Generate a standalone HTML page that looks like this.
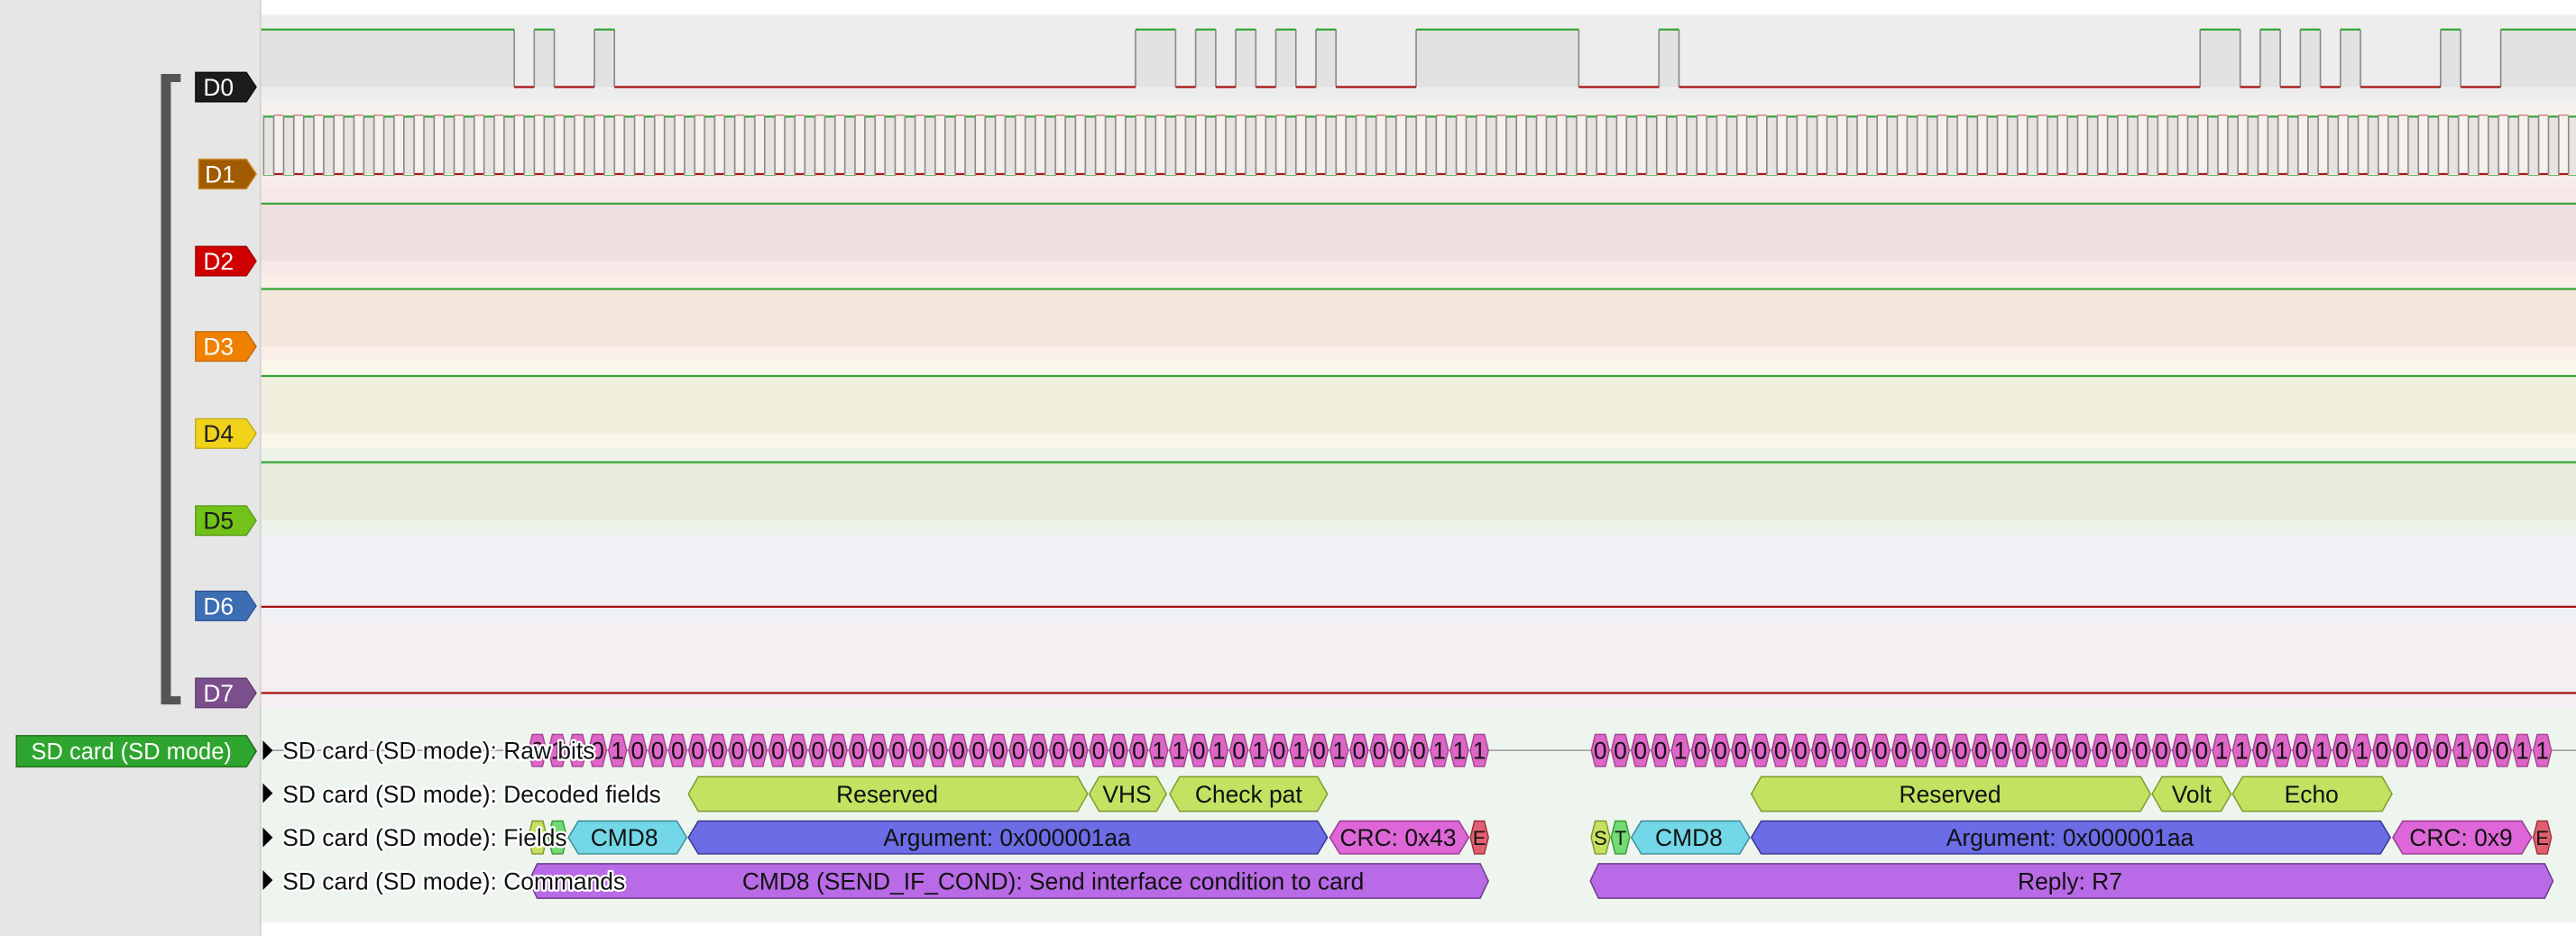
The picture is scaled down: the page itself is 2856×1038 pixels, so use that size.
<!DOCTYPE html>
<html><head><meta charset="utf-8"><style>
html,body{margin:0;padding:0;background:#fff;}
svg{display:block;}
text{font-family:"Liberation Sans",sans-serif;}
</style></head><body>
<svg width="2856" height="1038" viewBox="0 0 1568 570" preserveAspectRatio="none" xmlns="http://www.w3.org/2000/svg">
<defs>
<pattern id="clk" x="160" y="70.4" width="12.2" height="36.2" patternUnits="userSpaceOnUse">
<rect x="0" y="0.6" width="6.6" height="35" fill="#e6e3e0"/>
<rect x="0" y="0" width="7" height="1.2" fill="#35a535"/>
<rect x="6.6" y="35" width="5.8" height="1.2" fill="#a81010"/>
<rect x="0" y="0" width="0.9" height="36" fill="#8a8a8a"/>
<rect x="6.2" y="0" width="0.9" height="36" fill="#8a8a8a"/>
</pattern>
<pattern id="hexa" x="321" y="446" width="12.2" height="22" patternUnits="userSpaceOnUse">
<polygon points="0.6,11 3,1.2 9.2,1.2 11.6,11 9.2,20.8 3,20.8" fill="#de66c8" stroke="#9c3a88" stroke-width="0.7"/>
</pattern>
<pattern id="hexb" x="968" y="446" width="12.2" height="22" patternUnits="userSpaceOnUse">
<polygon points="0.6,11 3,1.2 9.2,1.2 11.6,11 9.2,20.8 3,20.8" fill="#de66c8" stroke="#9c3a88" stroke-width="0.7"/>
</pattern>
</defs>

<rect x="0" y="0" width="1568" height="570" fill="#fff"/>
<rect x="0" y="0" width="158" height="570" fill="#e6e6e6"/>
<rect x="158" y="0" width="1" height="570" fill="#cfcfcf"/>
<rect x="159" y="9" width="1409" height="53" fill="#ededed"/>
<rect x="159" y="62" width="1409" height="53" fill="#f5f1ed"/>
<rect x="159" y="106" width="1409" height="9" fill="#f7ecea"/>
<rect x="159" y="115" width="1409" height="53" fill="#f6e9e8"/>
<rect x="159" y="124" width="1409" height="35" fill="#efdfdf"/>
<rect x="159" y="168" width="1409" height="52" fill="#f9efe8"/>
<rect x="159" y="176" width="1409" height="35" fill="#f3e7dd"/>
<rect x="159" y="220" width="1409" height="53" fill="#f8f7e9"/>
<rect x="159" y="229" width="1409" height="35" fill="#f1f0de"/>
<rect x="159" y="273" width="1409" height="53" fill="#eef3e9"/>
<rect x="159" y="281" width="1409" height="36" fill="#e7ecdd"/>
<rect x="159" y="326" width="1409" height="52" fill="#eff1f5"/>
<rect x="159" y="378" width="1409" height="53" fill="#f3eff3"/>
<rect x="159" y="431" width="1409" height="131" fill="#eef5ee"/>

<g fill="#e2e2e2">
<rect x="159" y="18" width="154" height="35"/>
<rect x="325.2" y="18" width="12.2" height="35"/>
<rect x="361.8" y="18" width="12.2" height="35"/>
<rect x="691.2" y="18" width="24.4" height="35"/>
<rect x="727.8" y="18" width="12.2" height="35"/>
<rect x="752.2" y="18" width="12.2" height="35"/>
<rect x="776.6" y="18" width="12.2" height="35"/>
<rect x="801" y="18" width="12.2" height="35"/>
<rect x="862" y="18" width="99" height="35"/>
<rect x="1009.8" y="18" width="12.2" height="35"/>
<rect x="1339.2" y="18" width="24.4" height="35"/>
<rect x="1375.8" y="18" width="12.2" height="35"/>
<rect x="1400.2" y="18" width="12.2" height="35"/>
<rect x="1424.6" y="18" width="12.2" height="35"/>
<rect x="1485.6" y="18" width="12.2" height="35"/>
<rect x="1522.2" y="18" width="45.8" height="35"/>
</g>
<path fill="none" stroke="#8a8a8a" stroke-width="0.9" d="M313,18V53 M325.2,18V53 M337.4,18V53 M361.8,18V53 M374,18V53 M691.2,18V53 M715.6,18V53 M727.8,18V53 M740,18V53 M752.2,18V53 M764.4,18V53 M776.6,18V53 M788.8,18V53 M801,18V53 M813.2,18V53 M862,18V53 M961,18V53 M1009.8,18V53 M1022,18V53 M1339.2,18V53 M1363.6,18V53 M1375.8,18V53 M1388,18V53 M1400.2,18V53 M1412.4,18V53 M1424.6,18V53 M1436.8,18V53 M1485.6,18V53 M1497.8,18V53 M1522.2,18V53"/>
<path fill="none" stroke="#35a535" stroke-width="1.2" d="M159,18H313 M325.2,18H337.4 M361.8,18H374 M691.2,18H715.6 M727.8,18H740 M752.2,18H764.4 M776.6,18H788.8 M801,18H813.2 M862,18H961 M1009.8,18H1022 M1339.2,18H1363.6 M1375.8,18H1388 M1400.2,18H1412.4 M1424.6,18H1436.8 M1485.6,18H1497.8 M1522.2,18H1568"/>
<path fill="none" stroke="#a81010" stroke-width="1.2" d="M313,53H325.2 M337.4,53H361.8 M374,53H691.2 M715.6,53H727.8 M740,53H752.2 M764.4,53H776.6 M788.8,53H801 M813.2,53H862 M961,53H1009.8 M1022,53H1339.2 M1363.6,53H1375.8 M1388,53H1400.2 M1412.4,53H1424.6 M1436.8,53H1485.6 M1497.8,53H1522.2"/>

<rect x="160" y="70" width="1408" height="37" fill="url(#clk)"/>

<g stroke="#35a535" stroke-width="1.2">
<line x1="159" y1="124" x2="1568" y2="124"/>
<line x1="159" y1="176" x2="1568" y2="176"/>
<line x1="159" y1="229" x2="1568" y2="229"/>
<line x1="159" y1="281.5" x2="1568" y2="281.5"/>
</g>
<g stroke="#a81010" stroke-width="1.2">
<line x1="159" y1="369.5" x2="1568" y2="369.5"/>
<line x1="159" y1="422" x2="1568" y2="422"/>
</g>

<path d="M110,45 H98 V429 H110 V424 H104 V50 H110 Z" fill="#555"/>

<g font-size="14.5" text-anchor="middle">
<polygon points="119,44 150,44 156,53 150,62 119,62" fill="#1c1c1c" stroke="#000" stroke-width="0.6"/>
<text x="133" y="58.2" fill="#fff">D0</text>
<polygon points="121,97 150,97 156,106 150,115 121,115" fill="#a05a00" stroke="#c98a2a" stroke-width="0.8"/>
<text x="134" y="111.2" fill="#fff">D1</text>
<polygon points="119,150 150,150 156,159 150,168 119,168" fill="#d00000" stroke="#900" stroke-width="0.6"/>
<text x="133" y="164.2" fill="#fff">D2</text>
<polygon points="119,202 150,202 156,211 150,220 119,220" fill="#f08000" stroke="#b35f00" stroke-width="0.6"/>
<text x="133" y="216.2" fill="#fff">D3</text>
<polygon points="119,255 150,255 156,264 150,273 119,273" fill="#f0d21a" stroke="#b59d00" stroke-width="0.6"/>
<text x="133" y="269.2" fill="#222">D4</text>
<polygon points="119,308 150,308 156,317 150,326 119,326" fill="#72c21a" stroke="#4e8c0a" stroke-width="0.6"/>
<text x="133" y="322.2" fill="#1a1a1a">D5</text>
<polygon points="119,360 150,360 156,369 150,378 119,378" fill="#3d6db3" stroke="#27508a" stroke-width="0.6"/>
<text x="133" y="374.2" fill="#fff">D6</text>
<polygon points="119,413 150,413 156,422 150,431 119,431" fill="#7b4f8b" stroke="#583566" stroke-width="0.6"/>
<text x="133" y="427.2" fill="#fff">D7</text>
</g>
<polygon points="10,448 150,448 156,457.5 150,467 10,467" fill="#2ea52e" stroke="#1d6e1d" stroke-width="0.8"/>
<text x="80" y="462.5" font-size="14" fill="#fff" text-anchor="middle">SD card (SD mode)</text>

<line x1="160" y1="457" x2="1568" y2="457" stroke="#a0a0a0" stroke-width="0.9"/>

<rect x="321" y="446" width="585.6" height="22" fill="url(#hexa)"/>
<rect x="968" y="446" width="585.6" height="22" fill="url(#hexb)"/>
<g font-size="14.5" fill="#111" text-anchor="middle">
<text y="462.2" x="327.1 339.3 351.5 363.7 375.9 388.1 400.3 412.5 424.7 436.9 449.1 461.3 473.5 485.7 497.9 510.1 522.3 534.5 546.7 558.9 571.1 583.3 595.5 607.7 619.9 632.1 644.3 656.5 668.7 680.9 693.1 705.3 717.5 729.7 741.9 754.1 766.3 778.5 790.7 802.9 815.1 827.3 839.5 851.7 863.9 876.1 888.3 900.5">010010000000000000000000000000011010101010000111</text>
<text y="462.2" x="974.1 986.3 998.5 1010.7 1022.9 1035.1 1047.3 1059.5 1071.7 1083.9 1096.1 1108.3 1120.5 1132.7 1144.9 1157.1 1169.3 1181.5 1193.7 1205.9 1218.1 1230.3 1242.5 1254.7 1266.9 1279.1 1291.3 1303.5 1315.7 1327.9 1340.1 1352.3 1364.5 1376.7 1388.9 1401.1 1413.3 1425.5 1437.7 1449.9 1462.1 1474.3 1486.5 1498.7 1510.9 1523.1 1535.3 1547.5">000010000000000000000000000000011010101000010011</text>
</g>

<g stroke="#7f9a2a" stroke-width="0.8" fill="#c2e262">
<polygon points="419,483.5 425,473 656,473 662,483.5 656,494 425,494"/>
<polygon points="663,483.5 669,473 704,473 710,483.5 704,494 669,494"/>
<polygon points="712,483.5 718,473 802,473 808,483.5 802,494 718,494"/>
<polygon points="1066,483.5 1072,473 1303,473 1309,483.5 1303,494 1072,494"/>
<polygon points="1310,483.5 1316,473 1352,473 1358,483.5 1352,494 1316,494"/>
<polygon points="1359,483.5 1365,473 1450,473 1456,483.5 1450,494 1365,494"/>
</g>

<g stroke-width="0.8">
<polygon points="321.5,510 324,500 330.5,500 333,510 330.5,520 324,520" fill="#c6e060" stroke="#7f9a2a"/>
<polygon points="333.7,510 336.2,500 342.6,500 345,510 342.6,520 336.2,520" fill="#72dc72" stroke="#3a9a3a"/>
<polygon points="346,510 352,500 412,500 418,510 412,520 352,520" fill="#72d8e8" stroke="#3a8a98"/>
<polygon points="419,510 425,500 802,500 808,510 802,520 425,520" fill="#6c6ce6" stroke="#36368e"/>
<polygon points="809.5,510 815.5,500 888,500 894,510 888,520 815.5,520" fill="#de66d8" stroke="#9a3a92"/>
<polygon points="895,510 897.5,500 903.5,500 906,510 903.5,520 897.5,520" fill="#e06070" stroke="#9a3040"/>
<polygon points="968.5,510 971,500 977.5,500 980,510 977.5,520 971,520" fill="#c6e060" stroke="#7f9a2a"/>
<polygon points="980.7,510 983.2,500 989.5,500 992,510 989.5,520 983.2,520" fill="#72dc72" stroke="#3a9a3a"/>
<polygon points="993,510 999,500 1059,500 1065,510 1059,520 999,520" fill="#72d8e8" stroke="#3a8a98"/>
<polygon points="1066,510 1072,500 1449,500 1455,510 1449,520 1072,520" fill="#6c6ce6" stroke="#36368e"/>
<polygon points="1456.5,510 1462.5,500 1535,500 1541,510 1535,520 1462.5,520" fill="#de66d8" stroke="#9a3a92"/>
<polygon points="1542,510 1544.5,500 1550.5,500 1553,510 1550.5,520 1544.5,520" fill="#e06070" stroke="#9a3040"/>
</g>

<g stroke="#6a3a8a" stroke-width="0.8" fill="#b96ae6">
<polygon points="322,536.5 327,526 901,526 906,536.5 901,547 327,547"/>
<polygon points="968,536.5 973,526 1549,526 1554,536.5 1549,547 973,547"/>
</g>

<g font-size="14.5" fill="#111" text-anchor="middle">
<text x="540" y="488.8">Reserved</text>
<text x="686" y="488.8">VHS</text>
<text x="760" y="488.8">Check pat</text>
<text x="1187" y="488.8">Reserved</text>
<text x="1334" y="488.8">Volt</text>
<text x="1407" y="488.8">Echo</text>
<text x="380" y="515.2">CMD8</text>
<text x="613" y="515.2">Argument: 0x000001aa</text>
<text x="851" y="515.2">CRC: 0x43</text>
<text x="900.5" y="514.5" font-size="12">E</text>
<text x="974.2" y="514.5" font-size="12">S</text>
<text x="986.4" y="514.5" font-size="12">T</text>
<text x="1028" y="515.2">CMD8</text>
<text x="1260" y="515.2">Argument: 0x000001aa</text>
<text x="1498" y="515.2">CRC: 0x9</text>
<text x="1547.5" y="514.5" font-size="12">E</text>
<text x="641" y="541.7">CMD8 (SEND_IF_COND): Send interface condition to card</text>
<text x="1260" y="541.7">Reply: R7</text>
</g>

<g fill="#000">
<polygon points="160,451 166,457 160,463"/>
<polygon points="160,477 166,483 160,489"/>
<polygon points="160,504 166,510 160,516"/>
<polygon points="160,530 166,536 160,542"/>
</g>
<g font-size="14.5" fill="#111" stroke="#fff" stroke-width="2.5" paint-order="stroke" stroke-linejoin="round">
<text x="172" y="462.2">SD card (SD mode): Raw bits</text>
<text x="172" y="488.8">SD card (SD mode): Decoded fields</text>
<text x="172" y="515.2">SD card (SD mode): Fields</text>
<text x="172" y="541.7">SD card (SD mode): Commands</text>
</g>
</svg>
</body></html>
